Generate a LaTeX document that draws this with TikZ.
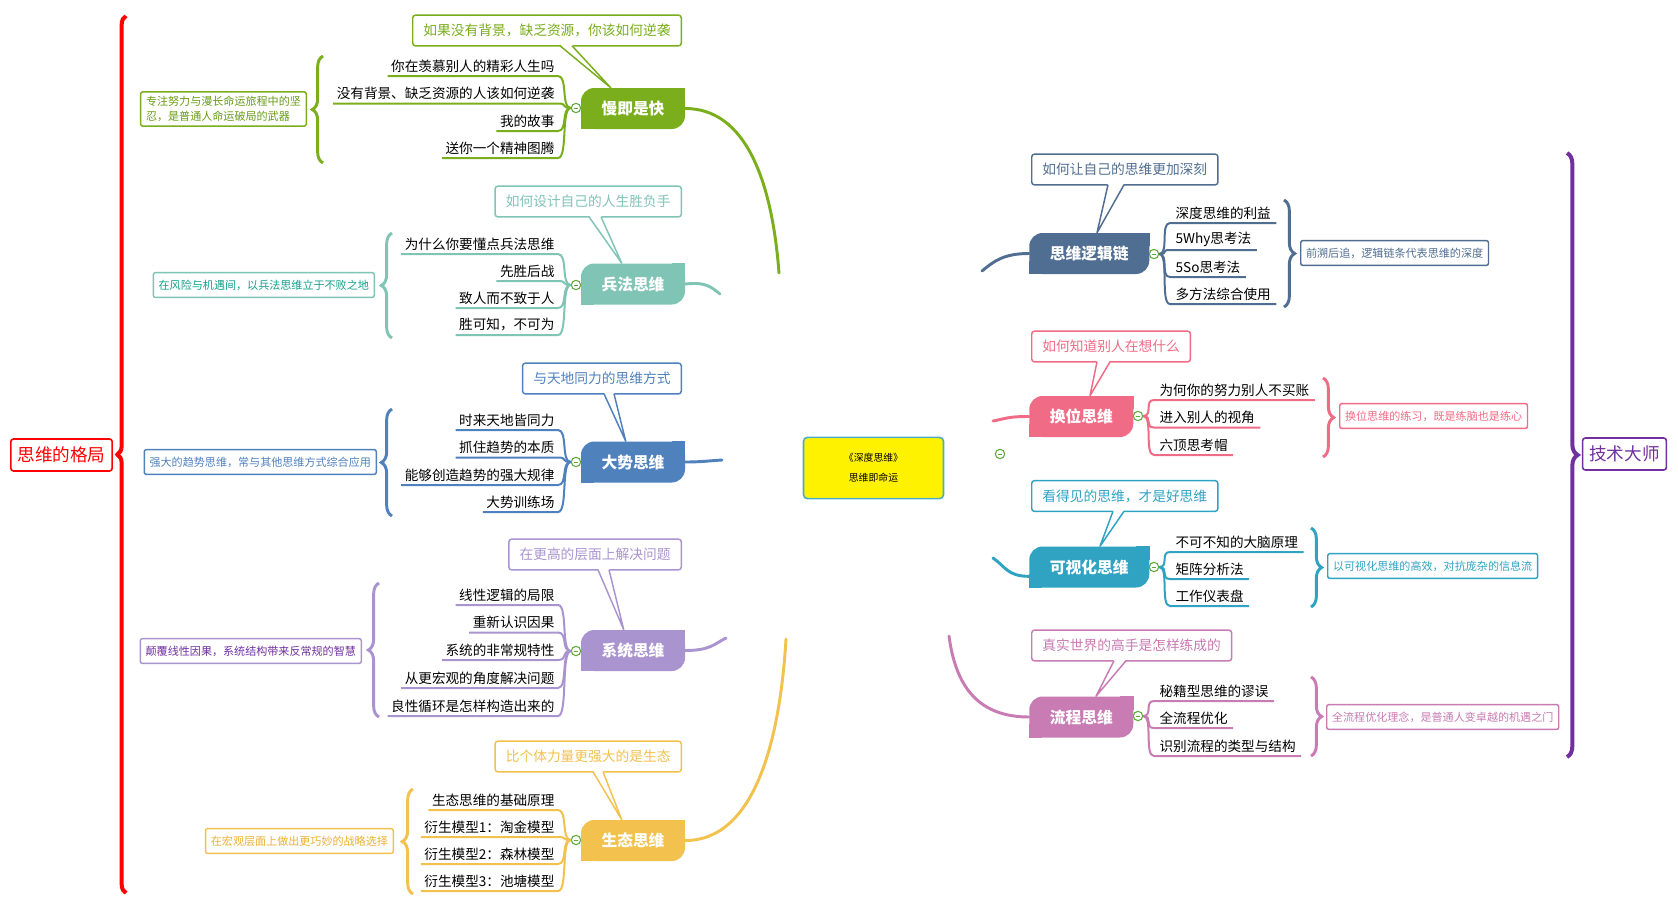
\documentclass[tikz,border=0pt]{standalone}
\usepackage{fontspec}
\setmainfont{Noto Sans CJK SC}
\usetikzlibrary{decorations.pathreplacing,backgrounds}
\definecolor{mmred}{RGB}{255,0,0}
\definecolor{mmgreen}{RGB}{122,174,28}
\definecolor{mmgreentext}{RGB}{104,156,20}
\definecolor{mmteal}{RGB}{128,196,182}
\definecolor{mmtealtext}{RGB}{20,160,140}
\definecolor{mmblue}{RGB}{79,129,189}
\definecolor{mmlav}{RGB}{170,148,208}
\definecolor{mmlavtext}{RGB}{112,48,160}
\definecolor{mmgold}{RGB}{242,193,78}
\definecolor{mmgoldtext}{RGB}{236,176,50}
\definecolor{mmslate}{RGB}{80,110,145}
\definecolor{mmpink}{RGB}{240,107,134}
\definecolor{mmcyan}{RGB}{47,163,193}
\definecolor{mmmauve}{RGB}{201,123,179}
\definecolor{mmviolet}{RGB}{112,48,160}
\definecolor{knotgreen}{RGB}{95,168,60}
\definecolor{coreblue}{RGB}{75,172,198}
\tikzset{
  topicnode/.style={draw=#1,text=#1,fill=white,line width=1.2pt,rounded corners=2pt,minimum height=24pt,inner xsep=5pt,font=\fontsize{13.2}{15}\selectfont},
  corenode/.style={draw=coreblue,fill=yellow,line width=1.2pt,rounded corners=3pt,minimum width=105pt,minimum height=46pt,align=center,font=\fontsize{7.4}{15}\selectfont},
  branchnode/.style={fill=#1,text=white,rounded corners=10pt,minimum height=30.75pt,minimum width=78pt,inner sep=0pt,font=\bfseries\fontsize{11.8}{14}\selectfont},
  widebranch/.style={branchnode=#1,minimum width=90pt},
  calloutnode/.style={draw=#1,text=#1,fill=white,line width=1.1pt,rounded corners=2pt,minimum height=23pt,inner xsep=8pt,font=\fontsize{10.3}{12}\selectfont},
  notenode/.style={draw=#1,text=#1,fill=white,line width=1.1pt,rounded corners=1.5pt,minimum height=18.5pt,inner xsep=4pt,align=left,font=\fontsize{8.3}{11}\selectfont},
  subleft/.style={anchor=south east,inner xsep=2.5pt,inner ysep=2.5pt,font=\fontsize{10.2}{12}\selectfont},
  subright/.style={anchor=south west,inner xsep=4pt,inner ysep=2.5pt,font=\fontsize{10.2}{12}\selectfont},
  knotnode/.style={circle,draw=knotgreen,fill=white,line width=0.8pt,minimum size=7pt,inner sep=0pt,
    path picture={\draw[knotgreen,line width=0.7pt] ([xshift=-1.8pt]path picture bounding box.center) -- ([xshift=1.8pt]path picture bounding box.center);}},
  sublink/.style={draw=#1,line width=1.5pt},
  branchlink/.style={draw=#1,line width=2.2pt,line cap=round},
  bracelink/.style={draw=#1,line width=2.2pt,decorate,decoration={brace,amplitude=8pt}},
  calloutline/.style={draw=#1,line width=1.1pt,line join=round}
}
% square off the top right and bottom left corners of a branch box
\newcommand{\leafcorners}[2]{%
  \fill[#2] (#1.north east) rectangle ([xshift=-10pt,yshift=-10pt]#1.north east);
  \fill[#2] (#1.south west) rectangle ([xshift=10pt,yshift=10pt]#1.south west);}
% callout pointer: colour, callout anchor, base shift, tip anchor, tip shift, base width
\newcommand{\calloutptr}[6]{%
  \fill[white] ([xshift=#3*0.75pt,yshift=1.5pt]#2) -- ([xshift=#5*0.75pt]#4) -- ([xshift=(#3+#6)*0.75pt,yshift=1.5pt]#2) -- cycle;
  \draw[calloutline=#1] ([xshift=#3*0.75pt,yshift=0.6pt]#2) -- ([xshift=#5*0.75pt]#4) -- ([xshift=(#3+#6)*0.75pt,yshift=0.6pt]#2);}

\begin{document}
\begin{tikzpicture}[x=0.75pt,y=-0.75pt]
  \useasboundingbox (0,0) rectangle (1678,900);

  % main topics
  \node[topicnode=mmred] (geju) at (61.5,455) {思维的格局};
  \node[topicnode=mmviolet] (dashi) at (1624.5,454) {技术大师};
  \node[corenode] (core) at (873.5,468) {《深度思维》\\思维即命运};
  \node[knotnode] (stray) at (1000,454) {};
  \coordinate (gejub1) at (126,893);
  \coordinate (gejub2) at (126,16);
  \draw[bracelink=mmred,line width=3pt,decoration={amplitude=6.5pt}] (gejub1) -- (gejub2);
  \coordinate (dashib1) at (1567,153);
  \coordinate (dashib2) at (1567,757);
  \draw[bracelink=mmviolet,line width=3pt] (dashib1) -- (dashib2);

  % free ends of the branch lines
  \coordinate (slowend) at (779,273);
  \coordinate (bingend) at (720,294);
  \coordinate (shiend) at (722,460);
  \coordinate (sysend) at (726,638);
  \coordinate (ecoend) at (786,639);
  \coordinate (chainend) at (982,271);
  \coordinate (swapend) at (993,421);
  \coordinate (visend) at (993,558);
  \coordinate (flowend) at (949,636);

  % branch boxes
  \node[branchnode=mmgreen] (slow) at (633,108.5) {慢即是快};
  \node[branchnode=mmteal] (bing) at (633,284) {兵法思维};
  \node[branchnode=mmblue] (shi) at (633,462) {大势思维};
  \node[branchnode=mmlav] (sys) at (633,650.5) {系统思维};
  \node[branchnode=mmgold] (eco) at (633,840.5) {生态思维};
  \node[widebranch=mmslate,anchor=west] (chain) at (1029,253.5) {思维逻辑链};
  \node[branchnode=mmpink,anchor=west] (swap) at (1029,416.5) {换位思维};
  \node[widebranch=mmcyan,anchor=west] (vis) at (1029,567) {可视化思维};
  \node[branchnode=mmmauve,anchor=west] (flow) at (1029,717) {流程思维};
  \leafcorners{slow}{mmgreen}
  \leafcorners{bing}{mmteal}
  \leafcorners{shi}{mmblue}
  \leafcorners{sys}{mmlav}
  \leafcorners{eco}{mmgold}
  \leafcorners{chain}{mmslate}
  \leafcorners{swap}{mmpink}
  \leafcorners{vis}{mmcyan}
  \leafcorners{flow}{mmmauve}

  \begin{scope}[on background layer]
    \fill[white] (0,0) rectangle (1678,900);
    \draw[branchlink=mmgreen] (slow.east) .. controls +(60,0) and +(-7,-93) .. (slowend);
    \draw[branchlink=mmteal] (bing.east) .. controls +(20,-2) and +(-10,-8) .. (bingend);
    \draw[branchlink=mmblue] (shi.east) .. controls +(15,0) and +(-15,1) .. (shiend);
    \draw[branchlink=mmlav] (sys.east) .. controls +(25,0) and +(-12,6) .. (sysend);
    \draw[branchlink=mmgold] (eco.east) .. controls +(70,0) and +(-6,100) .. (ecoend);
    \draw[branchlink=mmslate] (chain.west) .. controls +(-25,0) and +(12,-10) .. (chainend);
    \draw[branchlink=mmpink] (swap.west) .. controls +(-20,0) and +(15,-3) .. (swapend);
    \draw[branchlink=mmcyan] ([yshift=-7pt]vis.west) .. controls +(-22,0) and +(12,8) .. (visend);
    \draw[branchlink=mmmauve] (flow.west) .. controls +(-55,0) and +(6,45) .. (flowend);
  \end{scope}

  % callouts
  \node[calloutnode=mmgreen,anchor=east] (slowq) at (682,30.5) {如果没有背景，缺乏资源，你该如何逆袭};
  \node[calloutnode=mmteal,anchor=east] (bingq) at (682,201.5) {如何设计自己的人生胜负手};
  \node[calloutnode=mmblue,anchor=east] (shiq) at (682,378.5) {与天地同力的思维方式};
  \node[calloutnode=mmlav,anchor=east] (sysq) at (682,554.5) {在更高的层面上解决问题};
  \node[calloutnode=mmgold,anchor=east] (ecoq) at (682,756.5) {比个体力量更强大的是生态};
  \node[calloutnode=mmslate,anchor=west] (chainq) at (1031,169.5) {如何让自己的思维更加深刻};
  \node[calloutnode=mmpink,anchor=west] (swapq) at (1031,346.5) {如何知道别人在想什么};
  \node[calloutnode=mmcyan,anchor=west] (visq) at (1031,496) {看得见的思维，才是好思维};
  \node[calloutnode=mmmauve,anchor=west] (flowq) at (1031,645.5) {真实世界的高手是怎样练成的};
  \calloutptr{mmgreen}{slowq.south east}{-122}{slow.north west}{30}{12}
  \calloutptr{mmteal}{bingq.south east}{-93}{bing.north west}{41}{12}
  \calloutptr{mmblue}{shiq.south east}{-78}{shi.north west}{45}{10}
  \calloutptr{mmlav}{sysq.south east}{-84}{sys.north west}{43}{11}
  \calloutptr{mmgold}{ecoq.south east}{-89}{eco.north west}{41}{10}
  \calloutptr{mmslate}{chainq.south west}{77}{chain.north west}{68}{16}
  \calloutptr{mmpink}{swapq.south west}{66}{swap.north west}{61}{13}
  \calloutptr{mmcyan}{visq.south west}{82}{vis.north west}{71}{11}
  \calloutptr{mmmauve}{flowq.south west}{83}{flow.north west}{67}{12}

  % knots
  \node[knotnode] (slowk) at (576,108) {};
  \node[knotnode] (bingk) at (576,285) {};
  \node[knotnode] (shik) at (576,462) {};
  \node[knotnode] (sysk) at (576,651) {};
  \node[knotnode] (ecok) at (576,840) {};
  \node[knotnode] (chaink) at (1154,254) {};
  \node[knotnode] (swapk) at (1138,416) {};
  \node[knotnode] (visk) at (1154,567) {};
  \node[knotnode] (flowk) at (1138,716) {};

  % left subtopics
  \node[subleft] (slow1) at (558,76) {你在羡慕别人的精彩人生吗};
  \node[subleft] (slow2) at (558,103.5) {没有背景、缺乏资源的人该如何逆袭};
  \node[subleft] (slow3) at (558,131) {我的故事};
  \node[subleft] (slow4) at (558,158) {送你一个精神图腾};
  \node[subleft] (bing1) at (558,254) {为什么你要懂点兵法思维};
  \node[subleft] (bing2) at (558,281) {先胜后战};
  \node[subleft] (bing3) at (558,308) {致人而不致于人};
  \node[subleft] (bing4) at (558,335) {胜可知，不可为};
  \node[subleft] (shi1) at (558,430) {时来天地皆同力};
  \node[subleft] (shi2) at (558,457.5) {抓住趋势的本质};
  \node[subleft] (shi3) at (558,485) {能够创造趋势的强大规律};
  \node[subleft] (shi4) at (558,512) {大势训练场};
  \node[subleft] (sys1) at (558,605) {线性逻辑的局限};
  \node[subleft] (sys2) at (558,632.5) {重新认识因果};
  \node[subleft] (sys3) at (558,660) {系统的非常规特性};
  \node[subleft] (sys4) at (558,688) {从更宏观的角度解决问题};
  \node[subleft] (sys5) at (558,716) {良性循环是怎样构造出来的};
  \node[subleft] (eco1) at (558,810) {生态思维的基础原理};
  \node[subleft] (eco2) at (558,837) {衍生模型1：淘金模型};
  \node[subleft] (eco3) at (558,864) {衍生模型2：森林模型};
  \node[subleft] (eco4) at (558,891) {衍生模型3：池塘模型};

  % right subtopics
  \node[subright] (chain1) at (1170,223) {深度思维的利益};
  \node[subright] (chain2) at (1170,250) {5Why思考法};
  \node[subright] (chain3) at (1170,277) {5So思考法};
  \node[subright] (chain4) at (1170,304) {多方法综合使用};
  \node[subright] (swap1) at (1154,400) {为何你的努力别人不买账};
  \node[subright] (swap2) at (1154,427.5) {进入别人的视角};
  \node[subright] (swap3) at (1154,455) {六顶思考帽};
  \node[subright] (vis1) at (1170,552) {不可不知的大脑原理};
  \node[subright] (vis2) at (1170,579) {矩阵分析法};
  \node[subright] (vis3) at (1170,606) {工作仪表盘};
  \node[subright] (flow1) at (1154,701) {秘籍型思维的谬误};
  \node[subright] (flow2) at (1154,728) {全流程优化};
  \node[subright] (flow3) at (1154,756) {识别流程的类型与结构};

  % subtopic lines
  \foreach \c/\k/\n in {mmgreen/slowk/slow1,mmgreen/slowk/slow2,mmgreen/slowk/slow3,mmgreen/slowk/slow4,
      mmteal/bingk/bing1,mmteal/bingk/bing2,mmteal/bingk/bing3,mmteal/bingk/bing4,
      mmblue/shik/shi1,mmblue/shik/shi2,mmblue/shik/shi3,mmblue/shik/shi4,
      mmlav/sysk/sys1,mmlav/sysk/sys2,mmlav/sysk/sys3,mmlav/sysk/sys4,mmlav/sysk/sys5,
      mmgold/ecok/eco1,mmgold/ecok/eco2,mmgold/ecok/eco3,mmgold/ecok/eco4}
    \draw[sublink=\c] (\n.south west) -- (\n.south east) .. controls +(10,0) and +(-10,0) .. (\k.west);
  \foreach \c/\k/\n in {mmslate/chaink/chain1,mmslate/chaink/chain2,mmslate/chaink/chain3,mmslate/chaink/chain4,
      mmpink/swapk/swap1,mmpink/swapk/swap2,mmpink/swapk/swap3,
      mmcyan/visk/vis1,mmcyan/visk/vis2,mmcyan/visk/vis3,
      mmmauve/flowk/flow1,mmmauve/flowk/flow2,mmmauve/flowk/flow3}
    \draw[sublink=\c] (\k.east) .. controls +(10,0) and +(-10,0) .. (\n.south west) -- (\n.south east);

  % summary braces
  \coordinate (slowb1) at (323,163);  \coordinate (slowb2) at (323,56);
  \coordinate (bingb1) at (392,338);  \coordinate (bingb2) at (392,233);
  \coordinate (shib1) at (392,516);   \coordinate (shib2) at (392,409);
  \coordinate (sysb1) at (379,717);   \coordinate (sysb2) at (379,583);
  \coordinate (ecob1) at (413,894);   \coordinate (ecob2) at (413,789);
  \coordinate (chainb1) at (1284,200); \coordinate (chainb2) at (1284,307);
  \coordinate (swapb1) at (1323,378);  \coordinate (swapb2) at (1323,457);
  \coordinate (visb1) at (1311,528);   \coordinate (visb2) at (1311,607);
  \coordinate (flowb1) at (1311,677);  \coordinate (flowb2) at (1311,756);
  \draw[bracelink=mmgreen] (slowb1) -- (slowb2);
  \draw[bracelink=mmteal] (bingb1) -- (bingb2);
  \draw[bracelink=mmblue] (shib1) -- (shib2);
  \draw[bracelink=mmlav] (sysb1) -- (sysb2);
  \draw[bracelink=mmgold] (ecob1) -- (ecob2);
  \draw[bracelink=mmslate] (chainb1) -- (chainb2);
  \draw[bracelink=mmpink] (swapb1) -- (swapb2);
  \draw[bracelink=mmcyan] (visb1) -- (visb2);
  \draw[bracelink=mmmauve] (flowb1) -- (flowb2);

  % summary notes
  \node[notenode=mmgreen,text=mmgreentext,anchor=east] (slown) at (307,109) {专注努力与漫长命运旅程中的坚\\忍，是普通人命运破局的武器};
  \node[notenode=mmteal,text=mmtealtext,anchor=east] (bingn) at (375,285) {在风险与机遇间，以兵法思维立于不败之地};
  \node[notenode=mmblue,anchor=east] (shin) at (377,462) {强大的趋势思维，常与其他思维方式综合应用};
  \node[notenode=mmlav,text=mmlavtext,anchor=east] (sysn) at (362,651) {颠覆线性因果，系统结构带来反常规的智慧};
  \node[notenode=mmgold,text=mmgoldtext,anchor=east] (econ) at (394,841) {在宏观层面上做出更巧妙的战略选择};
  \node[notenode=mmslate,anchor=west] (chainn) at (1300,253) {前溯后追，逻辑链条代表思维的深度};
  \node[notenode=mmpink,anchor=west] (swapn) at (1339,416) {换位思维的练习，既是练脑也是练心};
  \node[notenode=mmcyan,anchor=west] (visn) at (1327,566) {以可视化思维的高效，对抗庞杂的信息流};
  \node[notenode=mmmauve,anchor=west] (flown) at (1326,717) {全流程优化理念，是普通人变卓越的机遇之门};
\end{tikzpicture}
\end{document}
